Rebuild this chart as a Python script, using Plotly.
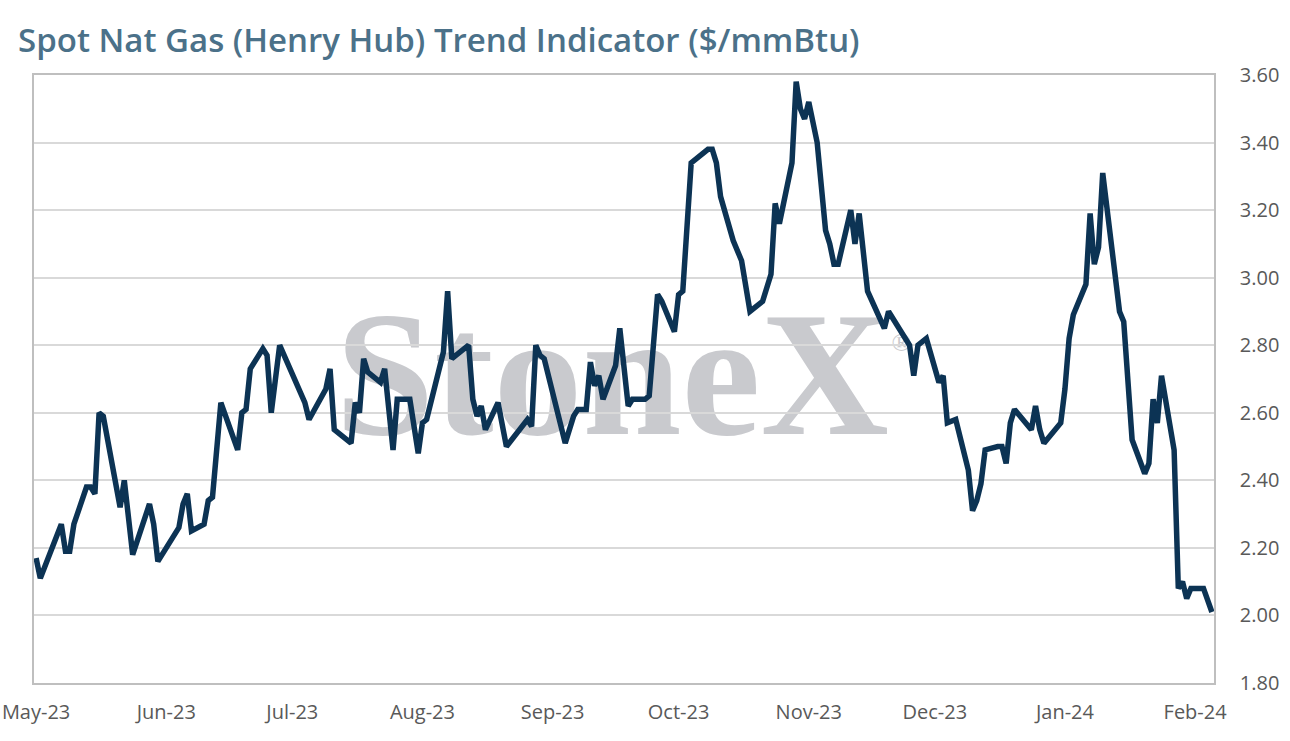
import plotly.graph_objects as go

# Henry Hub spot trend indicator, $/mmBtu
dates = [
    "2023-05-01", "2023-05-02", "2023-05-07", "2023-05-08", "2023-05-09", "2023-05-10",
    "2023-05-13", "2023-05-14", "2023-05-15", "2023-05-16", "2023-05-17", "2023-05-21",
    "2023-05-22", "2023-05-24", "2023-05-28", "2023-05-29", "2023-05-30",
    "2023-06-04", "2023-06-05", "2023-06-06", "2023-06-07", "2023-06-10", "2023-06-11",
    "2023-06-12", "2023-06-14", "2023-06-18", "2023-06-19", "2023-06-20", "2023-06-21",
    "2023-06-24", "2023-06-25", "2023-06-26", "2023-06-28",
    "2023-07-03", "2023-07-04", "2023-07-05", "2023-07-09", "2023-07-10", "2023-07-11",
    "2023-07-15", "2023-07-16", "2023-07-17", "2023-07-18", "2023-07-19", "2023-07-22",
    "2023-07-23", "2023-07-25", "2023-07-26", "2023-07-29", "2023-07-31",
    "2023-08-01", "2023-08-02", "2023-08-06", "2023-08-07", "2023-08-08", "2023-08-12",
    "2023-08-13", "2023-08-14", "2023-08-15", "2023-08-16", "2023-08-19", "2023-08-21",
    "2023-08-23", "2023-08-26", "2023-08-27", "2023-08-28", "2023-08-29", "2023-08-30",
    "2023-09-04", "2023-09-06", "2023-09-07", "2023-09-09", "2023-09-10", "2023-09-11",
    "2023-09-12", "2023-09-13", "2023-09-16", "2023-09-17", "2023-09-19", "2023-09-20",
    "2023-09-23", "2023-09-24", "2023-09-26", "2023-09-27", "2023-09-30",
    "2023-10-01", "2023-10-02", "2023-10-04", "2023-10-08", "2023-10-09", "2023-10-10",
    "2023-10-11", "2023-10-14", "2023-10-16", "2023-10-18", "2023-10-21", "2023-10-23",
    "2023-10-24", "2023-10-25", "2023-10-28", "2023-10-29", "2023-10-30", "2023-10-31",
    "2023-11-01", "2023-11-03", "2023-11-05", "2023-11-06", "2023-11-07", "2023-11-08",
    "2023-11-11", "2023-11-12", "2023-11-13", "2023-11-15", "2023-11-19", "2023-11-20",
    "2023-11-25", "2023-11-26", "2023-11-27", "2023-11-29",
    "2023-12-02", "2023-12-03", "2023-12-04", "2023-12-06", "2023-12-09", "2023-12-10",
    "2023-12-11", "2023-12-12", "2023-12-13", "2023-12-16", "2023-12-17", "2023-12-18",
    "2023-12-19", "2023-12-20", "2023-12-24", "2023-12-25", "2023-12-26", "2023-12-27",
    "2023-12-31",
    "2024-01-01", "2024-01-02", "2024-01-03", "2024-01-06", "2024-01-07", "2024-01-08",
    "2024-01-09", "2024-01-10", "2024-01-14", "2024-01-15", "2024-01-17", "2024-01-20",
    "2024-01-21", "2024-01-22", "2024-01-23", "2024-01-24", "2024-01-27", "2024-01-28",
    "2024-01-29", "2024-01-30", "2024-01-31",
    "2024-02-03", "2024-02-05",
]
prices = [
    2.17, 2.11, 2.27, 2.19, 2.19, 2.27,
    2.38, 2.38, 2.36, 2.60, 2.59, 2.32,
    2.40, 2.18, 2.33, 2.27, 2.16,
    2.26, 2.33, 2.36, 2.25, 2.27, 2.34,
    2.35, 2.63, 2.49, 2.60, 2.61, 2.73,
    2.79, 2.77, 2.60, 2.80,
    2.66, 2.63, 2.58, 2.67, 2.73, 2.55,
    2.51, 2.63, 2.60, 2.76, 2.72, 2.69,
    2.73, 2.49, 2.64, 2.64, 2.48,
    2.57, 2.58, 2.78, 2.96, 2.76, 2.80,
    2.64, 2.59, 2.62, 2.55, 2.63, 2.50,
    2.53, 2.58, 2.56, 2.80, 2.77, 2.76,
    2.51, 2.59, 2.61, 2.61, 2.75, 2.68,
    2.71, 2.64, 2.74, 2.85, 2.62, 2.64,
    2.64, 2.65, 2.95, 2.93, 2.84,
    2.95, 2.96, 3.34, 3.38, 3.38, 3.34,
    3.24, 3.11, 3.05, 2.90, 2.93, 3.01,
    3.22, 3.16, 3.34, 3.58, 3.50, 3.47,
    3.52, 3.40, 3.14, 3.10, 3.04, 3.04,
    3.20, 3.10, 3.19, 2.96, 2.85, 2.90,
    2.80, 2.71, 2.80, 2.82,
    2.69, 2.71, 2.57, 2.58, 2.43, 2.31,
    2.34, 2.39, 2.49, 2.50, 2.50, 2.45,
    2.57, 2.61, 2.55, 2.62, 2.55, 2.51,
    2.57,
    2.67, 2.82, 2.89, 2.98, 3.19, 3.04,
    3.09, 3.31, 2.90, 2.87, 2.52, 2.42,
    2.45, 2.64, 2.57, 2.71, 2.49, 2.08,
    2.10, 2.05, 2.08,
    2.08, 2.01,
]

y_ticks = [1.80, 2.00, 2.20, 2.40, 2.60, 2.80, 3.00, 3.20, 3.40, 3.60]

title_text = "Spot Nat Gas (Henry Hub) Trend Indicator ($/mmBtu)"
tick_font = dict(family="Open Sans", size=20, color="#595959")

fig = go.Figure()
fig.add_trace(go.Scatter(
    x=dates, y=prices, mode="lines",
    line=dict(color="#0c3354", width=5.5),
    hoverinfo="x+y", showlegend=False,
))

# StoneX watermark sits behind the gridlines and the line
fig.add_shape(
    type="rect", xref="paper", yref="paper",
    x0=0.15, x1=0.83, y0=0.41, y1=0.67,
    line_width=0, fillcolor="rgba(0,0,0,0)", layer="below",
    label=dict(text="StoneX", textposition="middle center",
               font=dict(family="Liberation Serif", size=178, color="#c9cace", weight="bold")),
)
fig.add_shape(
    type="rect", xref="paper", yref="paper",
    x0=0.71, x1=0.76, y0=0.52, y1=0.61,
    line_width=0, fillcolor="rgba(0,0,0,0)", layer="below",
    label=dict(text="®", textposition="middle center",
               font=dict(family="Liberation Serif", size=26, color="#c9cace")),
)

fig.update_layout(
    width=1290, height=741,
    margin=dict(l=34, r=76, t=75, b=58),
    paper_bgcolor="white", plot_bgcolor="white",
    title=dict(text=title_text, x=0.014, xanchor="left", y=0.946, yanchor="middle",
               font=dict(family="Open Sans", size=33, color="#4b7189", weight=600)),
    xaxis=dict(
        range=["2023-04-30 12:00", "2024-02-05 12:00"],
        dtick="M1", tick0="2023-05-01", tickformat="%b-%y",
        showgrid=False, ticks="", tickfont=tick_font, automargin=False,
        ticklabeloverflow="allow",
        showline=True, mirror=True, linecolor="#bfbfbf", linewidth=1.5,
        ticklabelstandoff=10,
    ),
    yaxis=dict(
        side="right", range=[1.80, 3.60],
        tickvals=y_ticks, ticktext=[f"{v:.2f}" for v in y_ticks],
        showgrid=True, gridcolor="#d9d9d9", gridwidth=1.5, automargin=False,
        zeroline=False, ticks="", tickfont=tick_font,
        showline=True, mirror=True, linecolor="#bfbfbf", linewidth=1.5,
        ticklabelstandoff=20,
    ),
)

# drop the page's default body margin so the figure fills the window
fig.write_html("out.html", config={"displayModeBar": False},
               post_script="document.body.style.margin = '0';")
